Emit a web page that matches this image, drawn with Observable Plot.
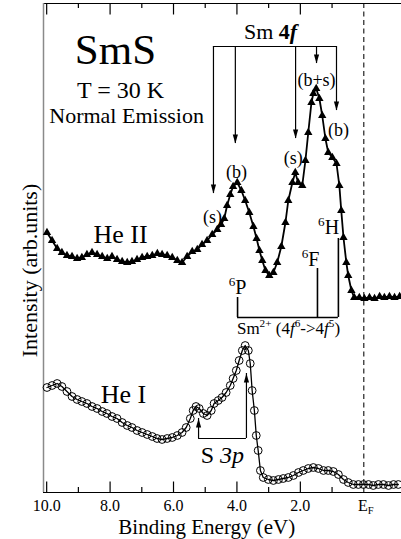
<!DOCTYPE html>
<html><head><meta charset="utf-8">
<script src="https://cdn.jsdelivr.net/npm/d3@7"></script>
<script src="https://cdn.jsdelivr.net/npm/@observablehq/plot@0.6"></script>
<style>body{margin:0;background:#fff} svg{display:block}</style>
</head><body><div id="chart"></div>
<script>
// He II spectrum (triangles)
const heIIEnergy = [9.99,9.83,9.67,9.52,9.36,9.20,9.04,8.89,8.73,8.57,8.41,8.25,8.09,7.94,7.78,7.62,7.46,7.31,7.15,6.99,6.83,6.67,6.51,6.36,6.20,6.04,5.88,5.73,5.57,5.41,5.25,5.10,4.94,4.78,4.62,4.50,4.40,4.31,4.21,4.12,3.99,3.86,3.74,3.61,3.48,3.38,3.29,3.20,3.10,2.98,2.85,2.73,2.60,2.47,2.38,2.25,2.16,2.07,1.94,1.84,1.75,1.65,1.59,1.50,1.40,1.31,1.21,1.12,0.99,0.86,0.77,0.71,0.64,0.55,0.49,0.39,0.30,0.14,-0.02,-0.18,-0.34,-0.50,-0.65,-0.81,-0.97,-1.13];
const heIIIntensity = [26.0,25.2,24.4,24.0,23.7,23.6,23.4,23.5,23.8,24.0,23.8,23.6,23.4,23.6,23.3,23.1,23.0,23.1,23.3,23.5,23.6,23.7,23.9,23.8,23.7,23.5,23.2,23.0,23.6,24.1,24.3,24.8,25.2,25.8,26.3,26.8,27.4,28.7,29.8,30.6,31.0,30.2,29.2,28.0,26.6,25.4,24.2,23.2,22.2,21.7,22.0,23.0,24.6,27.0,29.2,31.0,32.0,31.0,30.7,33.2,36.0,39.0,39.9,40.4,39.4,37.7,35.4,34.0,33.5,32.9,30.7,28.2,25.5,23.0,21.7,20.2,19.5,19.5,19.4,19.5,19.4,19.6,19.5,19.6,19.5,19.6];
// He I spectrum (circles)
const heIEnergy = [9.99,9.83,9.67,9.52,9.36,9.20,9.04,8.89,8.73,8.57,8.41,8.25,8.10,7.94,7.78,7.62,7.46,7.31,7.15,6.99,6.83,6.67,6.52,6.36,6.20,6.04,5.88,5.73,5.60,5.47,5.38,5.29,5.19,5.06,4.94,4.81,4.72,4.59,4.47,4.34,4.21,4.12,4.02,3.93,3.83,3.74,3.64,3.58,3.52,3.45,3.39,3.33,3.26,3.17,3.01,2.85,2.69,2.54,2.38,2.22,2.06,1.91,1.75,1.59,1.43,1.27,1.12,0.96,0.80,0.64,0.49,0.33,0.17,0.01,-0.15,-0.30,-0.46,-0.62,-0.78,-0.94,-1.09];
const heIIntensity = [10.5,10.7,10.9,10.6,10.1,9.6,9.3,9.1,8.9,8.6,8.4,8.1,7.9,7.6,7.4,7.0,6.7,6.5,6.2,6.0,5.8,5.6,5.4,5.3,5.4,5.5,5.7,6.0,6.5,7.4,8.2,8.6,8.4,7.9,7.7,8.2,8.9,9.2,9.5,10.0,10.7,11.4,12.2,13.2,14.2,14.7,14.2,12.9,10.2,8.2,5.7,4.2,2.2,1.5,1.3,1.2,1.3,1.4,1.5,1.7,2.0,2.2,2.4,2.5,2.4,2.2,2.2,2.1,1.8,1.3,1.0,0.8,0.8,0.8,0.8,0.7,0.8,0.8,0.7,0.8,0.8];

const majorTicks = [10, 8, 6, 4, 2];
const minorTicks = [9, 7, 5, 3, 1];
const tickLabels = ["10.0", "8.0", "6.0", "4.0", "2.0"];
const fermiLabel = "EF";

// Sm 4f assignments
const sm4fArrowE = [4.74, 4.05, 2.15, 1.49, 0.86];
const sm4fArrowTip = [29.9, 34.9, 35.4, 42.9, 38.2];
const sm4fBar = 44.6;
const peakLabels = ["(s)", "(b)", "(s)", "(b+s)", "(b)"];
const peakLabelE = [4.77, 4.01, 2.22, 1.49, 0.80];
const peakLabelI = [27.0, 31.5, 32.9, 40.7, 35.7];

// Sm2+ final-state multiplet
const multipletE = [3.98, 1.46, 0.80];
const multipletTop = [19.5, 22.4, 25.4];
const multipletBar = 17.5;
const multipletLabels = ["6P", "6F", "6H"];
const multipletLabelE = [3.98, 1.68, 1.11];
const multipletLabelI = [19.9, 22.7, 25.9];

// S 3p
const s3pE = [5.21, 3.70];
const s3pTip = [7.4, 11.9];
const s3pBar = 5.4;

const rich = {
  "Sm 4f": [["Sm ", ""], ["4", "b"], ["f", "bi"]],
  "S 3p": [["S ", ""], ["3p", "i"]],
  "Sm2+ (4f6->4f5)": [["Sm", ""], ["2+", "sup"], [" (4", ""], ["f", "i"], ["6", "sup"], ["->4", ""], ["f", "i"], ["5", "sup"], [")", ""]],
  "6P": [["6", "sup"], ["P", ""]],
  "6F": [["6", "sup"], ["F", ""]],
  "6H": [["6", "sup"], ["H", ""]],
  "EF": [["E", ""], ["F", "sub"]]
};

const heII = heIIEnergy.map((e, i) => ({e, v: heIIIntensity[i]}));
const heI = heIEnergy.map((e, i) => ({e, v: heIIntensity[i]}));

const arrowDown = {draw(c) { c.moveTo(0, 4.5); c.lineTo(-2.6, -4.5); c.lineTo(2.6, -4.5); c.closePath(); }};
const arrowUp = {draw(c) { c.moveTo(0, -4.5); c.lineTo(-2.6, 4.5); c.lineTo(2.6, 4.5); c.closePath(); }};

const X0 = 10.1, X1 = -1.19, Y1 = 48.9;

const plot = Plot.plot({
  width: 401, height: 539,
  marginLeft: 43, marginRight: 0, marginTop: 3, marginBottom: 47,
  x: {domain: [X0, X1], axis: null},
  y: {domain: [0, Y1], axis: null},
  style: {fontFamily: "'Liberation Serif', 'Times New Roman', serif", background: "white", overflow: "visible", color: "black"},
  marks: [
    Plot.ruleX([0], {stroke: "#333", strokeWidth: 1.3, strokeDasharray: "5,3.5"}),
    Plot.ruleY([0], {stroke: "black", strokeWidth: 1.2}),
    Plot.ruleY([Y1], {stroke: "black", strokeWidth: 1.2}),
    Plot.ruleX([X0], {stroke: "#8a8a8a", strokeWidth: 1.5}),
    Plot.ruleX(majorTicks, {x: d => d, y1: 0, y2: 1.05, stroke: "black", strokeWidth: 1.2}),
    Plot.ruleX(minorTicks, {x: d => d, y1: 0, y2: 0.5, stroke: "black", strokeWidth: 1.2}),
    Plot.ruleX(majorTicks, {x: d => d, y1: Y1, y2: Y1 - 1.15, stroke: "black", strokeWidth: 1.2}),
    Plot.ruleX(minorTicks, {x: d => d, y1: Y1, y2: Y1 - 0.5, stroke: "black", strokeWidth: 1.2}),
    Plot.text(majorTicks, {x: d => d, y: () => 0, text: (d, i) => tickLabels[i], dy: 18, lineAnchor: "bottom", fontSize: 16}),
    Plot.text([fermiLabel], {x: () => 0, y: () => 0, text: d => d, dy: 18, dx: 2, lineAnchor: "bottom", fontSize: 16}),
    Plot.text(["Binding Energy (eV)"], {x: () => 4.95, y: () => -4.1, text: d => d, lineAnchor: "bottom", fontSize: 21}),
    Plot.text(["Intensity (arb.units)"], {x: () => 10.32, y: () => 22.2, text: d => d, rotate: -90, lineAnchor: "bottom", fontSize: 22}),

    // spectra
    Plot.line(heII, {x: "e", y: "v", stroke: "black", strokeWidth: 1.8}),
    Plot.dot(heII, {x: "e", y: "v", symbol: "triangle", fill: "black", r: 3.1}),
    Plot.line(heI, {x: "e", y: "v", stroke: "black", strokeWidth: 1.3}),
    Plot.dot(heI, {x: "e", y: "v", symbol: "circle", fill: "none", stroke: "black", strokeWidth: 1, r: 3.9}),

    // titles
    Plot.text(["SmS"], {x: () => 7.83, y: () => 42.9, text: d => d, lineAnchor: "bottom", fontSize: 43}),
    Plot.text(["T = 30 K"], {x: () => 7.67, y: () => 39.5, text: d => d, lineAnchor: "bottom", fontSize: 24}),
    Plot.text(["Normal Emission"], {x: () => 7.48, y: () => 37.0, text: d => d, lineAnchor: "bottom", fontSize: 22}),
    Plot.text(["He II"], {x: () => 7.67, y: () => 25.0, text: d => d, lineAnchor: "bottom", fontSize: 26}),
    Plot.text(["He I"], {x: () => 7.58, y: () => 9.0, text: d => d, lineAnchor: "bottom", fontSize: 26}),

    // Sm 4f bracket
    Plot.text(["Sm 4f"], {x: () => 2.94, y: () => 45.4, text: d => d, lineAnchor: "bottom", fontSize: 22}),
    Plot.ruleY([sm4fBar], {x1: d3.max(sm4fArrowE), x2: d3.min(sm4fArrowE), stroke: "black", strokeWidth: 1.2}),
    Plot.ruleX(sm4fArrowE, {x: d => d, y1: sm4fBar, y2: (d, i) => sm4fArrowTip[i], stroke: "black", strokeWidth: 1.2}),
    Plot.dot(sm4fArrowE, {x: d => d, y: (d, i) => sm4fArrowTip[i], symbol: arrowDown, r: 3, fill: "black", dy: -4.5}),
    Plot.text(peakLabels, {x: (d, i) => peakLabelE[i], y: (d, i) => peakLabelI[i], text: d => d, lineAnchor: "bottom", fontSize: 18}),

    // multiplet bracket
    Plot.ruleY([multipletBar], {x1: d3.max(multipletE), x2: d3.min(multipletE), stroke: "black", strokeWidth: 1.6}),
    Plot.ruleX(multipletE, {x: d => d, y1: multipletBar, y2: (d, i) => multipletTop[i], stroke: "black", strokeWidth: 1.6}),
    Plot.text(multipletLabels, {x: (d, i) => multipletLabelE[i], y: (d, i) => multipletLabelI[i], text: d => d, lineAnchor: "bottom", fontSize: 20}),
    Plot.text(["Sm2+ (4f6->4f5)"], {x: () => 4.0, y: () => 15.9, text: d => d, textAnchor: "start", lineAnchor: "bottom", fontSize: 17}),

    // S 3p bracket
    Plot.ruleY([s3pBar], {x1: d3.max(s3pE), x2: d3.min(s3pE), stroke: "black", strokeWidth: 1.2}),
    Plot.ruleX(s3pE, {x: d => d, y1: s3pBar, y2: (d, i) => s3pTip[i], stroke: "black", strokeWidth: 1.2}),
    Plot.dot(s3pE, {x: d => d, y: (d, i) => s3pTip[i], symbol: arrowUp, r: 3, fill: "black", dy: 4.5}),
    Plot.text(["S 3p"], {x: () => 4.46, y: () => 3.0, text: d => d, lineAnchor: "bottom", fontSize: 24})
  ]
});

document.getElementById("chart").appendChild(plot);

// rich text: superscripts, subscripts, italics
d3.select(plot).selectAll("text").each(function() {
  const segs = rich[this.textContent];
  if (!segs) return;
  const fs = parseFloat(getComputedStyle(this).fontSize) || 16;
  const t = d3.select(this);
  t.text(null);
  let cur = 0;
  for (const [s, st] of segs) {
    const target = st === "sup" ? -0.4 * fs : st === "sub" ? 0.22 * fs : 0;
    const sp = t.append("tspan").text(s);
    if (target !== cur) sp.attr("dy", target - cur);
    cur = target;
    if (st === "sup" || st === "sub") sp.attr("font-size", 0.66 * fs);
    if (st.includes("b") && st !== "sub" && st !== "sup") sp.attr("font-weight", "bold");
    if (st.includes("i")) sp.attr("font-style", "italic");
  }
});
</script>
</body></html>
